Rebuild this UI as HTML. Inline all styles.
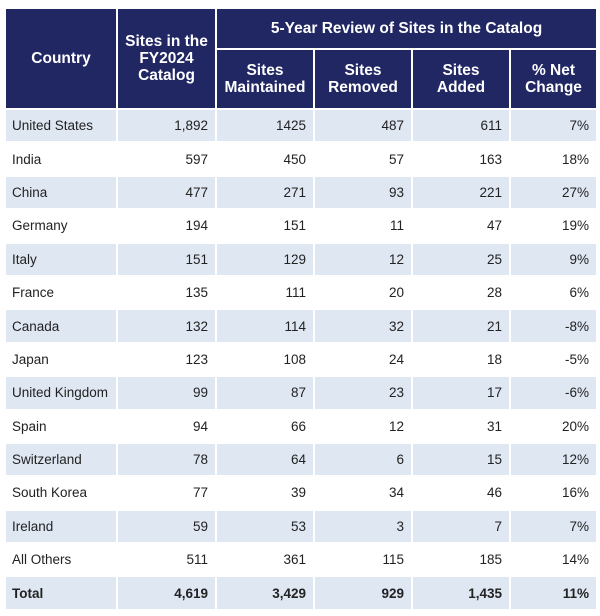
<!DOCTYPE html>
<html><head><meta charset="utf-8"><style>
body{margin:0;background:#fff;width:600px;height:616px;overflow:hidden;font-family:"Liberation Sans",Arial,sans-serif}
table{position:absolute;left:4px;top:7px;border-collapse:collapse;width:592px;table-layout:fixed}
td,th{border:2px solid #fff;padding:0 7px;font-size:13.5px;color:#222}
th{background:#212763;color:#fff;font-size:15.5px;font-weight:bold;text-align:center;line-height:17px}
tr.h1 th{height:39px}
tr.h2 th{height:58px}
tbody td{height:31.4px;text-align:right;white-space:nowrap}
tbody td:first-child{text-align:left;padding-left:6px;padding-right:2px}
tr.s td{background:#dfe7f3}
tr.t td{font-weight:bold}
</style></head><body>
<table>
<colgroup><col style="width:112px"><col style="width:99px"><col style="width:98px"><col style="width:98px"><col style="width:98px"><col style="width:87px"></colgroup>
<thead>
<tr class="h1">
<th rowspan="2">Country</th>
<th rowspan="2">Sites in the FY2024 Catalog</th>
<th colspan="4">5-Year Review of Sites in the Catalog</th></tr>
<tr class="h2">
<th>Sites Maintained</th>
<th>Sites Removed</th>
<th>Sites Added</th>
<th>% Net Change</th></tr>
</thead>
<tbody id="tb"></tbody>
</table>
<script>
const countries=["United States","India","China","Germany","Italy","France","Canada","Japan","United Kingdom","Spain","Switzerland","South Korea","Ireland","All Others","Total"];
const catalog=["1,892","597","477","194","151","135","132","123","99","94","78","77","59","511","4,619"];
const maintained=["1425","450","271","151","129","111","114","108","87","66","64","39","53","361","3,429"];
const removed=["487","57","93","11","12","20","32","24","23","12","6","34","3","115","929"];
const added=["611","163","221","47","25","28","21","18","17","31","15","46","7","185","1,435"];
const net=["7%","18%","27%","19%","9%","6%","-8%","-5%","-6%","20%","12%","16%","7%","14%","11%"];
const tb=document.getElementById('tb');
countries.forEach((c,i)=>{
 const tr=document.createElement('tr');
 
 
 let cls=(i%2===0)?'s':'';
 if(i===countries.length-1)cls='s t';
 tr.className=cls;
 [c,catalog[i],maintained[i],removed[i],added[i],net[i]].forEach((v,j)=>{
  const td=document.createElement('td');
  
  
  td.textContent=v;tr.appendChild(td);
 });
 tb.appendChild(tr);
});
</script>
</body></html>
